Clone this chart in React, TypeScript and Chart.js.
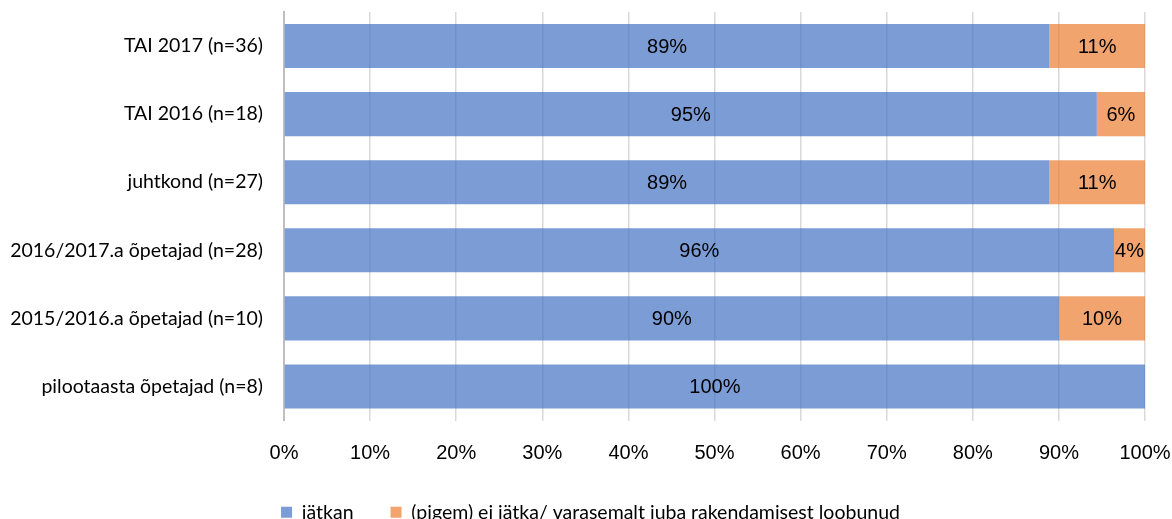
import React, { useEffect, useRef } from "react";
import { Chart, registerables } from "chart.js";

Chart.register(...registerables);

const categories = [
  "TAI 2017 (n=36)",
  "TAI 2016 (n=18)",
  "juhtkond (n=27)",
  "2016/2017.a õpetajad (n=28)",
  "2015/2016.a õpetajad (n=10)",
  "pilootaasta õpetajad (n=8)",
];
const continueValues = [88.9, 94.4, 88.9, 96.4, 90, 100];
const stopValues = [11.1, 5.6, 11.1, 3.6, 10, 0];
const continueLabels = ["89%", "95%", "89%", "96%", "90%", "100%"];
const stopLabels = ["11%", "6%", "11%", "4%", "10%", ""];
const seriesNames = ["jätkan", "(pigem) ei jätka/ varasemalt juba rakendamisest loobunud"];
const xTicks = [0, 10, 20, 30, 40, 50, 60, 70, 80, 90, 100];

const labelTexts = [continueLabels, stopLabels];

const barLabelPlugin = {
  id: "barLabels",
  afterLayout(chart: any) {
    if (chart.legend) {
      chart.legend.left += 18;
      chart.legend.right += 18;
    }
  },
  afterDatasetsDraw(chart: any) {
    const ctx = chart.ctx;
    ctx.save();
    ctx.font = '20px "Liberation Sans", Arial, sans-serif';
    ctx.fillStyle = "#000";
    ctx.textAlign = "center";
    ctx.textBaseline = "middle";
    chart.data.datasets.forEach((ds: any, di: number) => {
      const meta = chart.getDatasetMeta(di);
      meta.data.forEach((bar: any, i: number) => {
        const txt = labelTexts[di][i];
        if (!txt || !ds.data[i]) return;
        const p = bar.getProps(["x", "y", "base"], true);
        ctx.fillText(txt, (p.x + p.base) / 2, p.y + 1);
      });
    });
    ctx.restore();
  },
};

export default function App() {
  const ref = useRef<HTMLCanvasElement>(null);
  useEffect(() => {
    if (!ref.current) return;
    const chart = new Chart(ref.current, {
      type: "bar",
      data: {
        labels: categories,
        datasets: [
          {
            label: seriesNames[0],
            data: continueValues,
            backgroundColor: "rgba(68,114,196,0.7)",
            borderWidth: 0,
            barPercentage: 0.647,
            categoryPercentage: 1,
          },
          {
            label: seriesNames[1],
            data: stopValues,
            backgroundColor: "rgba(237,125,49,0.7)",
            borderWidth: 0,
            barPercentage: 0.647,
            categoryPercentage: 1,
          },
        ],
      },
      options: {
        indexAxis: "y",
        responsive: false,
        animation: false,
        layout: { padding: { top: 12, right: 27, left: 0, bottom: 0 } },
        scales: {
          x: {
            stacked: true,
            min: 0,
            max: 100,
            afterBuildTicks: (s: any) => {
              s.ticks = xTicks.map((v) => ({ value: v }));
            },
            afterFit: (s: any) => {
              s.paddingLeft = 0;
              s.paddingRight = 0;
              s.height = 45;
            },
            ticks: {
              callback: (v: any) => v + "%",
              font: { family: '"Liberation Sans", Arial, sans-serif', size: 20 },
              color: "#000",
              padding: 21,
              maxRotation: 0,
            },
            grid: { color: "#d9d9d9", lineWidth: 1.5, drawTicks: false },
            border: { display: false },
          },
          y: {
            stacked: true,
            afterFit: (s: any) => {
              s.width = 284;
              s.paddingTop = 0;
              s.paddingBottom = 0;
            },
            ticks: {
              font: { family: "Lato, sans-serif", size: 19.5 },
              color: "#000",
              padding: 21,
            },
            grid: { display: false, drawTicks: false },
            border: { display: true, color: "#bfbfbf", width: 2 },
          },
        },
        plugins: {
          legend: {
            position: "bottom",
            labels: {
              boxWidth: 11,
              boxHeight: 11,
              padding: 37,
              font: { family: "Lato, sans-serif", size: 19.5 },
              color: "#000",
            },
          },
          tooltip: { enabled: false },
        },
      },
      plugins: [barLabelPlugin],
    });
    return () => chart.destroy();
  }, []);
  return (
    <div style={{ position: "absolute", left: 0, top: 0, width: 1172, height: 532 }}>
      <canvas ref={ref} width={1172} height={532} />
    </div>
  );
}
